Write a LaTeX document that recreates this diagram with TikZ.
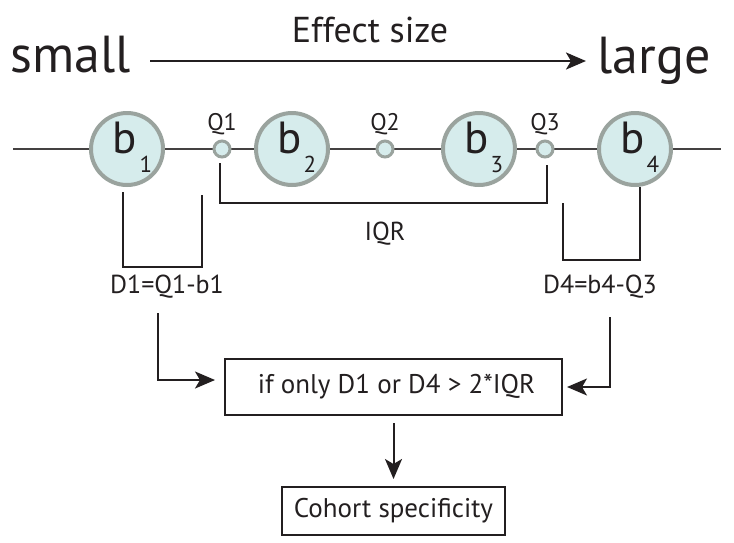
\documentclass[tikz,border=0pt]{standalone}
\usepackage{fontspec}
\setmainfont{PT Sans}
\usetikzlibrary{arrows.meta}
\definecolor{cfill}{HTML}{D6ECEC}
\definecolor{cring}{HTML}{9AA39E}
\definecolor{ink}{HTML}{231F20}
\begin{document}
\begin{tikzpicture}[x=1pt,y=-1pt,
  bigc/.style={circle,draw=cring,line width=4pt,fill=cfill,minimum size=72pt,inner sep=0pt},
  qdot/.style={circle,draw=cring,line width=3pt,fill=cfill,minimum size=16pt,inner sep=0pt},
  conn/.style={draw=ink,line width=2pt},
  arr/.style={conn,-{Stealth[length=20pt,width=17pt,inset=5pt]}},
  txt/.style={text=ink,inner sep=0pt,anchor=base},
  btxt/.style={txt,font=\fontsize{45}{45}\selectfont},
  subtxt/.style={txt,font=\fontsize{23}{23}\selectfont},
  qtxt/.style={txt,font=\fontsize{24}{24}\selectfont},
  mtxt/.style={txt,font=\fontsize{26}{26}\selectfont},
  boxn/.style={draw=ink,line width=2pt,text=ink,inner sep=0pt,font=\fontsize{27}{27}\selectfont}
]
\useasboundingbox (0,0) rectangle (734,542);
% title
\node[txt,font=\fontsize{52}{52}\selectfont] (smallt) at (71,72) {small};
\node[txt,font=\fontsize{52}{52}\selectfont] (larget) at (654,73) {large};
\node[txt,font=\fontsize{36}{36}\selectfont] (effect) at (370,42) {Effect size};
\coordinate (ea) at (150,61);
\coordinate (eb) at (586,61);
\draw[arr,line width=2.4pt] (ea) -- (eb);
% main line
\coordinate (L) at (13,149);
\coordinate (R) at (721,149);
\draw[draw=ink!85,line width=2pt] (L) -- (R);
% circles
\node[bigc] (b1) at (127,149) {};
\node[bigc] (b2) at (292,149) {};
\node[bigc] (b3) at (479,149) {};
\node[bigc] (b4) at (635,149) {};
\node[qdot] (q1) at (222,149) {};
\node[qdot] (q2) at (385,149) {};
\node[qdot] (q3) at (545,149) {};
% b labels
\node[btxt] (b1t) at (125,153) {b};
\node[subtxt] (b1s) at (146,172) {1};
\node[btxt] (b2t) at (290,153) {b};
\node[subtxt] (b2s) at (310,172) {2};
\node[btxt] (b3t) at (477,153) {b};
\node[subtxt] (b3s) at (497,172) {3};
\node[btxt] (b4t) at (633,153) {b};
\node[subtxt] (b4s) at (653,172) {4};
% Q labels
\node[qtxt] (q1t) at (222,130) {Q1};
\node[qtxt] (q2t) at (385,130) {Q2};
\node[qtxt] (q3t) at (545,130) {Q3};
% IQR bracket
\coordinate (i1) at (220,163);
\coordinate (i2) at (547,165);
\draw[conn] (i1) -- (220,203) -| (i2);
\node[mtxt] (iqr) at (385,240) {IQR};
% D1 bracket
\coordinate (d1a) at (123,192);
\coordinate (d1b) at (202,195);
\draw[conn] (d1a) |- (202,267) -- (d1b);
\node[mtxt] (d1t) at (167,293) {D1=Q1-b1};
% D4 bracket
\coordinate (d4a) at (563,203);
\coordinate (d4b) at (640,187);
\draw[conn] (d4a) |- (640,260) -- (d4b);
\node[mtxt] (d4t) at (600,293) {D4=b4-Q3};
% boxes
\node[boxn,minimum width=337pt,minimum height=56pt] (box1) at (393.5,387) {\hspace*{6pt}if only D1 or D4 > 2*IQR};
\node[boxn,minimum width=223pt,minimum height=48pt] (box2) at (393.5,511) {Cohort specificity};
% arrows
\coordinate (la) at (158,313);
\coordinate (ra) at (610,317);
\draw[arr,shorten >=9pt] (la) |- ([yshift=7pt]box1.west);
\draw[arr,shorten >=4pt] (ra) |- (box1.east);
\draw[arr,shorten <=7pt,shorten >=7pt] (box1.south) -- (box2.north);
\end{tikzpicture}
\end{document}
